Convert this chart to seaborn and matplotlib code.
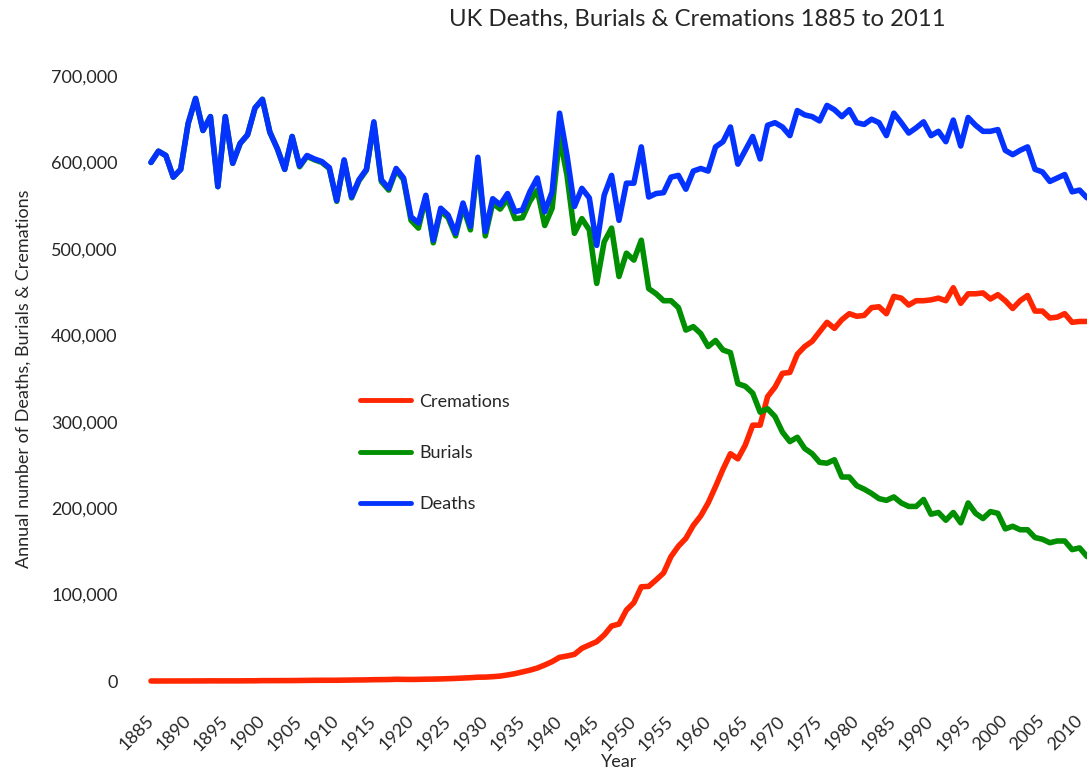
import matplotlib
matplotlib.use("Agg")
import matplotlib.pyplot as plt
import matplotlib.ticker as mticker
import seaborn as sns
import pandas as pd

years = list(range(1885, 2012))

deaths = [
    600000, 613000, 608000, 583000, 592000, 645000, 674000, 637000, 653000, 572000,
    653000, 599000, 622000, 632000, 663000, 673000, 635000, 616000, 592000, 630000,
    596000, 608000, 604000, 601000, 594000, 556000, 603000, 560000, 580000, 592000,
    647000, 580000, 570000, 593000, 582000, 537000, 530000, 562000, 510000, 547000,
    539000, 518000, 553000, 526000, 606000, 520000, 558000, 551000, 564000, 543000,
    545000, 566000, 582000, 543000, 566000, 657000, 608000, 549000, 570000, 559000,
    504000, 562000, 585000, 533000, 576000, 576000, 618000, 560000, 564000, 565000,
    583000, 585000, 569000, 590000, 593000, 590000, 618000, 624000, 641000, 598000,
    614000, 630000, 604000, 643000, 646000, 641000, 631000, 660000, 655000, 653000,
    648000, 666000, 661000, 653000, 661000, 646000, 644000, 650000, 646000, 631000,
    657000, 646000, 634000, 640000, 647000, 631000, 636000, 624000, 649000, 619000,
    652000, 643000, 636000, 636000, 638000, 614000, 609000, 614000, 618000, 592000,
    589000, 578000, 582000, 586000, 566000, 568000, 559000,
]

burials = [
    600000, 613000, 608000, 583000, 592000, 645000, 674000, 637000, 653000, 572000,
    653000, 599000, 622000, 632000, 663000, 673000, 635000, 616000, 592000, 630000,
    595000, 607000, 603000, 600000, 593000, 555000, 602000, 559000, 579000, 591000,
    645000, 578000, 568000, 591000, 580000, 533000, 524000, 560000, 507000, 544000,
    536000, 515000, 549000, 522000, 601000, 515000, 553000, 546000, 558000, 535000,
    536000, 555000, 568000, 527000, 547000, 630000, 585000, 518000, 535000, 522000,
    460000, 508000, 524000, 468000, 495000, 487000, 510000, 454000, 448000, 440000,
    440000, 432000, 406000, 410000, 402000, 387000, 394000, 383000, 380000, 344000,
    341000, 333000, 311000, 315000, 306000, 288000, 277000, 282000, 269000, 263000,
    253000, 252000, 256000, 236000, 236000, 226000, 222000, 217000, 211000, 209000,
    213000, 206000, 202000, 202000, 210000, 193000, 195000, 186000, 195000, 183000,
    206000, 194000, 188000, 196000, 194000, 176000, 179000, 175000, 175000, 166000,
    164000, 160000, 162000, 162000, 152000, 154000, 144000,
]

cremations = [
    3, 10, 13, 28, 46, 54, 99, 104, 172, 125,
    150, 137, 173, 240, 240, 444, 427, 431, 475, 500,
    604, 700, 800, 830, 850, 840, 1000, 1100, 1200, 1300,
    1500, 1600, 1700, 2000, 1900, 1800, 1900, 2100, 2200, 2400,
    2700, 3000, 3400, 3800, 4400, 4500, 5000, 5700, 7000, 8500,
    10500, 12500, 15000, 18500, 22400, 27400, 28900, 30800, 37800, 41700,
    45500, 53200, 63600, 65900, 82100, 90600, 109000, 109500, 117000, 125000,
    144000, 156000, 165000, 180000, 191000, 206000, 225000, 245000, 263000, 257000,
    273000, 296000, 296000, 329000, 340000, 356000, 357000, 378000, 387000, 393000,
    404000, 415000, 408000, 418000, 425000, 422000, 423000, 432000, 433000, 425000,
    445000, 443000, 435000, 440000, 440000, 441000, 443000, 440000, 455000, 437000,
    448000, 448000, 449000, 442000, 447000, 440000, 431000, 440000, 446000, 428000,
    428000, 420000, 421000, 425000, 415000, 416000, 416000,
]

series_names = ["Cremations", "Burials", "Deaths"]
colors = ["#FF2600", "#008F00", "#0433FF"]

df = pd.DataFrame({
    "Year": years * 3,
    "Value": cremations + burials + deaths,
    "Series": ["Cremations"] * len(years) + ["Burials"] * len(years) + ["Deaths"] * len(years),
})

sns.set_style("white")
plt.rcParams["font.family"] = ["Lato", "DejaVu Sans"]

fig = plt.figure(figsize=(10.87, 7.69), dpi=100)
ax = fig.add_axes([151 / 1087, 1 - 681 / 769, 1 - 151 / 1087, (681 - 76) / 769])

sns.lineplot(data=df, x="Year", y="Value", hue="Series", hue_order=series_names,
             palette=colors, linewidth=4, ax=ax, clip_on=False,
             solid_capstyle="round", solid_joinstyle="round")

ax.set_xlim(1885, 2011)
ax.set_ylim(0, 700000)
ax.set_xticks(range(1885, 2011, 5))
ax.set_yticks(range(0, 700001, 100000))
ax.yaxis.set_major_formatter(mticker.FuncFormatter(lambda v, p: f"{int(v):,}"))
ax.tick_params(axis="both", length=0, labelsize=13)
ax.tick_params(axis="y", pad=24)
ax.tick_params(axis="x", pad=27)
for lab in ax.get_xticklabels():
    lab.set_rotation(45)
    lab.set_ha("right")
    lab.set_va("center")
    lab.set_rotation_mode("anchor")

for s in ax.spines.values():
    s.set_visible(False)
ax.grid(False)

ax.set_xlabel("Year", fontsize=13, labelpad=0)
ax.set_ylabel("Annual number of Deaths, Burials & Cremations", fontsize=13, labelpad=14)
fig.text(697 / 1087, 1 - 19 / 769, "UK Deaths, Burials & Cremations 1885 to 2011",
         ha="center", va="center", fontsize=17.2)

leg = ax.legend(loc="upper left", bbox_to_anchor=(0.2233, 0.475), frameon=False,
                fontsize=13, handlelength=2.8, handletextpad=0.5, labelspacing=1.95,
                borderpad=0, borderaxespad=0)
for line in leg.get_lines():
    line.set_linewidth(3.5)

fig.savefig("out.png", dpi=100)
